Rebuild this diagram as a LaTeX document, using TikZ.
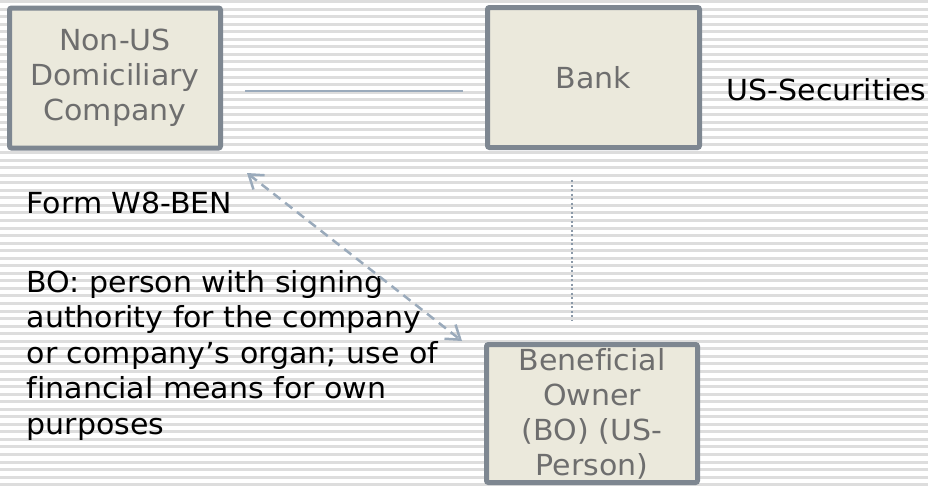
\documentclass[tikz,border=0pt]{standalone}
\usepackage{fontspec}
\setmainfont[FakeStretch=1.035,Ligatures={NoCommon}]{DejaVu Sans}
\usetikzlibrary{arrows.meta}
\definecolor{stripe}{HTML}{DDDDDD}
\definecolor{boxfill}{HTML}{EBE9DC}
\definecolor{boxline}{HTML}{7E8791}
\definecolor{boxtext}{HTML}{6E6E6E}
\definecolor{conn}{HTML}{9AAABB}
\tikzset{barbtip/.tip={Straight Barb[length=13pt,width=18pt]}}
\begin{document}
\begin{tikzpicture}[x=1pt,y=-1pt,
  entity/.style={draw=boxline, line width=5pt, fill=boxfill, rounded corners=2pt,
    text=boxtext, align=center, font=\fontsize{29}{35}\selectfont, inner sep=0pt},
  note/.style={text=black, align=left, font=\fontsize{29}{35.5}\selectfont, inner sep=0pt},
  link/.style={draw=conn, line width=2.5pt}
]
\useasboundingbox (0,0) rectangle (928,485);
\fill[white] (0,0) rectangle (928,485);
\begin{scope}
  \clip (0,0) rectangle (928,485);
  \foreach \i in {0,...,64} \fill[stripe] (0,{\i*7.55}) rectangle (928,{\i*7.55+3});
\end{scope}

\node[entity, minimum width=211pt, minimum height=140pt] (company) at (115,78) {Non-US\\Domiciliary\\Company};
\node[entity, minimum width=212pt, minimum height=140pt] (bank) at (593.5,77.5) {Bank};
\node[entity, minimum width=211pt, minimum height=138pt] (bo) at (592,413.5) {Beneficial\\Owner\\(BO) (US-\\Person)};

\node[note, anchor=base west] (sec) at (726.5,100) {US-Securities};
\node[note, anchor=base west] (form) at (26.5,213) {Form W8-BEN};
\node[note, anchor=north west] (bonote) at (26.5,270) {BO: person with signing\\authority for the company\\or company’s organ; use of\\financial means for own\\purposes};

\coordinate (lineA) at (245,91);
\coordinate (lineB) at (463,91);
\draw[link] (lineA) -- (lineB);

\coordinate (dotA) at (572,180);
\coordinate (dotB) at (572,320);
\draw[link, draw=conn!90!black, line width=2.2pt, dash pattern=on 2.2pt off 2.3pt] (dotA) -- (dotB);

\coordinate (arrA) at (247,173);
\coordinate (arrB) at (462,341);
\draw[link, dash pattern=on 9pt off 6pt, barbtip-barbtip] (arrA) -- (arrB);
\end{tikzpicture}
\end{document}
